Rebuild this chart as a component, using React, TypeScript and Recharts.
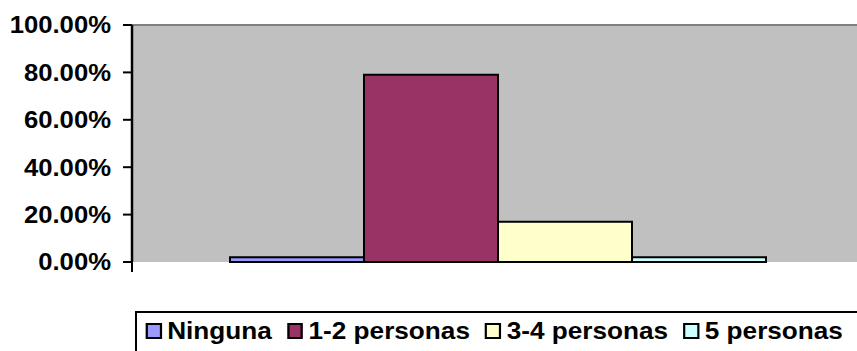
import { BarChart, Bar, XAxis, YAxis, CartesianGrid, ReferenceLine } from "recharts";

const categories = ["Hogar"];
const seriesNames = ["Ninguna", "1-2 personas", "3-4 personas", "5 personas"];
const seriesValues = [0.02, 0.79, 0.17, 0.02];
const seriesColors = ["#9999FF", "#993366", "#FFFFCC", "#CCFFFF"];
const yTicks = [0, 0.2, 0.4, 0.6, 0.8, 1];

const data = categories.map((name) => {
  const row: Record<string, string | number> = { name };
  seriesNames.forEach((s, i) => {
    row[s] = seriesValues[i];
  });
  return row;
});

const FONT = '"Liberation Sans", Arial, sans-serif';
const TICK_SIZE = 9;
const TICK_MARGIN = 12;
const Y_STRETCH = 1.07;
const LEGEND_STRETCH = 1.09;

const YTick = (props: any) => {
  const { x, y, payload } = props;
  const axisX = x + TICK_SIZE + TICK_MARGIN;
  return (
    <g>
      <text
        x={x}
        y={y}
        dy={8.5}
        textAnchor="end"
        fontFamily={FONT}
        fontWeight="bold"
        fontSize={24}
        fill="#000"
        transform={`translate(${x},0) scale(${Y_STRETCH},1) translate(${-x},0)`}
      >
        {(payload.value * 100).toFixed(2) + "%"}
      </text>
      {payload.value === 0 && (
        <line x1={axisX} y1={y} x2={axisX} y2={y + 10} stroke="#000" strokeWidth={2} />
      )}
    </g>
  );
};

export default function App() {
  return (
    <div
      style={{
        position: "absolute",
        left: 0,
        top: 0,
        width: 857,
        height: 351,
        overflow: "hidden",
        background: "#fff",
      }}
    >
      <BarChart
        width={864}
        height={351}
        data={data}
        margin={{ top: 25, right: 0, left: 0, bottom: 89 }}
        barCategoryGap={98}
        barGap={0}
      >
        <CartesianGrid fill="#C0C0C0" horizontal={false} vertical={false} />
        <ReferenceLine y={1} stroke="#808080" strokeWidth={2} />
        <XAxis
          dataKey="name"
          tick={false}
          tickLine={false}
          height={0}
          axisLine={{ stroke: "#000", strokeWidth: 2 }}
        />
        <YAxis
          width={132}
          domain={[0, 1]}
          ticks={yTicks}
          interval={0}
          tickSize={TICK_SIZE}
          tickMargin={TICK_MARGIN}
          tick={<YTick />}
          tickLine={{ stroke: "#000", strokeWidth: 2 }}
          axisLine={{ stroke: "#000", strokeWidth: 2.5 }}
        />
        {seriesNames.map((s, i) => (
          <Bar
            key={s}
            dataKey={s}
            fill={seriesColors[i]}
            stroke="#000"
            strokeWidth={2}
            isAnimationActive={false}
          />
        ))}
      </BarChart>
      <div
        style={{
          position: "absolute",
          left: 135,
          top: 311,
          width: 760,
          height: 60,
          borderLeft: "2px solid #000",
          borderTop: "2px solid #000",
          boxSizing: "border-box",
        }}
      >
        <div
          style={{
            display: "flex",
            alignItems: "flex-start",
            paddingTop: 6,
            paddingLeft: 8,
            transform: `scaleX(${LEGEND_STRETCH})`,
            transformOrigin: "left top",
            fontFamily: FONT,
            fontWeight: "bold",
            fontSize: 24,
            lineHeight: "24px",
            whiteSpace: "nowrap",
          }}
        >
          {seriesNames.map((s, i) => (
            <div key={s} style={{ display: "flex", alignItems: "flex-start", marginRight: 14 }}>
              <span
                style={{
                  display: "inline-block",
                  width: 14.7,
                  height: 16,
                  marginTop: 4,
                  marginRight: 5,
                  background: seriesColors[i],
                  border: "2px solid #000",
                  boxSizing: "border-box",
                }}
              />
              <span>{s}</span>
            </div>
          ))}
        </div>
      </div>
    </div>
  );
}
